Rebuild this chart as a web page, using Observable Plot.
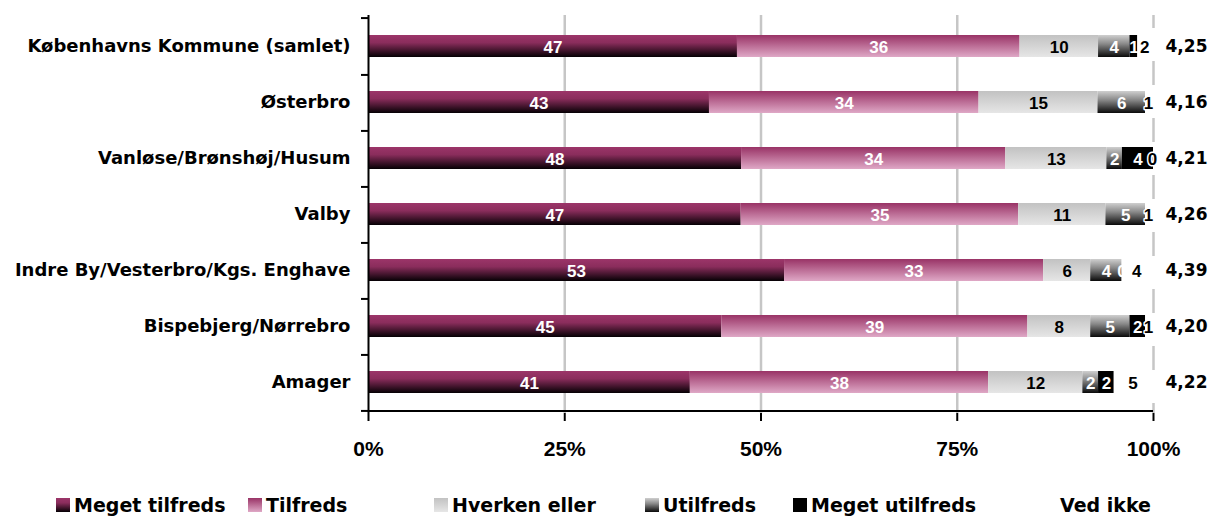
<!DOCTYPE html>
<html><head><meta charset="utf-8">
<script src="https://cdn.jsdelivr.net/npm/d3@7"></script>
<script src="https://cdn.jsdelivr.net/npm/@observablehq/plot@0.6"></script>
<style>
body{margin:0;background:#fff;font-family:"Liberation Sans",Arial,sans-serif;}
#chart{width:1210px;height:475px;}
#legend{position:relative;width:1210px;height:42px;}
#legend .item{position:absolute;top:19px;display:flex;align-items:center;font-family:"DejaVu Sans",sans-serif;font-weight:bold;font-size:19px;line-height:22px;color:#000;white-space:nowrap;}
#legend .sw{width:14px;height:14px;margin-right:4px;}
</style></head><body>
<div id="chart"></div>
<div id="legend"></div>
<script>
// ---- data ----
const categories = ["Københavns Kommune (samlet)","Østerbro","Vanløse/Brønshøj/Husum","Valby","Indre By/Vesterbro/Kgs. Enghave","Bispebjerg/Nørrebro","Amager"];
const series = ["Meget tilfreds","Tilfreds","Hverken eller","Utilfreds","Meget utilfreds","Ved ikke"];
const megetTilfreds  = [47,43,48,47,53,45,41];
const tilfreds       = [36,34,34,35,33,39,38];
const hverkenEller   = [10,15,13,11,6,8,12];
const utilfreds      = [4,6,2,5,4,5,2];
const megetUtilfreds = [1,null,4,null,0,2,2];
const vedIkke        = [2,1,0,1,4,1,5];
const scores = ["4,25","4,16","4,21","4,26","4,39","4,20","4,22"];
const xTicks = [0,25,50,75,100];

// ---- styles ----
const gradients = {
  "Meget tilfreds": [[0,"#9c3569"],[0.35,"#8a2d5c"],[1,"#050004"]],
  "Tilfreds": [[0,"#993366"],[1,"#dfa8c6"]],
  "Hverken eller": [[0,"#c2c2c2"],[1,"#e6e6e6"]],
  "Utilfreds": [[0,"#cfcfcf"],[0.4,"#8a8a8a"],[1,"#0a0a0a"]],
  "Meget utilfreds": [[0,"#000"],[1,"#000"]],
  "Ved ikke": [[0,"#fff"],[1,"#fff"]]
};
const gid = s => "grad" + series.indexOf(s);
const labelColor = {"Meget tilfreds":"#fff","Tilfreds":"#fff","Hverken eller":"#000","Utilfreds":"#fff","Meget utilfreds":"#fff","Ved ikke":"#000"};
const VED = "Ved ikke";

// ---- long table (100% stacked through Plot's normalize offset) ----
const cols = [megetTilfreds, tilfreds, hverkenEller, utilfreds, megetUtilfreds, vedIkke];
const table = categories.flatMap((c, i) => series.map((s, j) => ({
  category: c, series: s, value: cols[j][i], w: cols[j][i] == null ? 0 : cols[j][i]
})));
const rowData = scores.map((s, i) => ({category: categories[i], score: s}));

const stack = extra => Plot.stackX({x: "w", y: "category", z: "series", offset: "normalize", order: series, ...extra});

const W = 1210, H = 475, mT = 15, mB = 62, mL = 368, mR = 57;
const step = (H - mT - mB) / categories.length;

const svg = Plot.plot({
  width: W, height: H,
  marginLeft: mL, marginRight: mR, marginTop: mT, marginBottom: mB,
  x: {domain: [0, 1], axis: null, label: null},
  y: {domain: categories, axis: null, paddingInner: 0.61, paddingOuter: 0.305, label: null},
  color: {type: "identity"},
  style: {fontFamily: "Liberation Sans, Arial, sans-serif", background: "#fff", color: "#000"},
  marks: [
    Plot.ruleX(xTicks.filter(t => t > 0 && t < 100).map(t => t / 100), {stroke: "#c6c6c6", strokeWidth: 2.5}),
    Plot.ruleX(xTicks.filter(t => t === 100).map(t => t / 100), {stroke: "#c6c6c6", strokeWidth: 2.5, strokeDasharray: "24,33", strokeDashoffset: 11}),
    // answer segments (Ved ikke left transparent here)
    Plot.barX(table, stack({fill: d => d.series === VED ? "none" : `url(#${gid(d.series)})`})),
    Plot.text(table, stack({text: d => d.series === VED || d.value == null ? null : String(d.value), fill: d => labelColor[d.series], fontWeight: "bold", fontSize: 17, dy: 1})),
    // Ved ikke segment (white) drawn on top, then its label
    Plot.barX(table, stack({fill: d => d.series === VED ? "#fff" : "none"})),
    Plot.text(table, stack({text: d => d.series === VED && d.value != null ? String(d.value) : null, fill: "#000", stroke: "#fff", strokeWidth: 3, paintOrder: "stroke", fontWeight: "bold", fontSize: 17, dy: 1, dx: -1})),
    Plot.text(rowData, {y: "category", text: "score", frameAnchor: "right", dx: 33, textAnchor: "middle", fontFamily: "DejaVu Sans", fontWeight: "bold", fontSize: 17, fill: "#000"}),
    Plot.ruleX([0], {stroke: "#000", strokeWidth: 2}),
    Plot.ruleY([categories[categories.length - 1]], {dy: step / 2, stroke: "#000", strokeWidth: 2}),
    Plot.axisY({tickSize: 0, tickPadding: 18, fontSize: 18, fontWeight: "bold", fontFamily: "DejaVu Sans", label: null}),
    Plot.axisY({tickSize: 7, tickFormat: () => "", dy: step / 2, strokeWidth: 2, label: null}),
    Plot.axisY({ticks: [categories[0]], tickSize: 7, tickFormat: () => "", dy: -step / 2, strokeWidth: 2, label: null}),
    Plot.axisX({ticks: xTicks.map(t => t / 100), tickFormat: d => Math.round(d * 100) + "%", tickSize: 8, tickPadding: 20, fontSize: 21, fontWeight: "bold", strokeWidth: 2, label: null})
  ]
});

// gradient definitions
const defs = d3.create("svg:defs");
series.forEach(s => {
  const lg = defs.append("linearGradient").attr("id", gid(s)).attr("x1", 0).attr("y1", 0).attr("x2", 0).attr("y2", 1);
  gradients[s].forEach(([o, c]) => lg.append("stop").attr("offset", o).attr("stop-color", c));
});
svg.insertBefore(defs.node(), svg.firstChild);
document.getElementById("chart").appendChild(svg);

// legend (layout: left edge of each swatch)
const legendLeft = [56, 248, 434, 645, 793, 1042];
const legend = d3.select("#legend");
series.forEach((s, i) => {
  const it = legend.append("div").attr("class", "item").style("left", legendLeft[i] + "px");
  const g = gradients[s].map(([o, c]) => `${c} ${o * 100}%`).join(",");
  it.append("div").attr("class", "sw").style("background", `linear-gradient(to bottom, ${g})`);
  it.append("span").text(s);
});
</script>
</body></html>
